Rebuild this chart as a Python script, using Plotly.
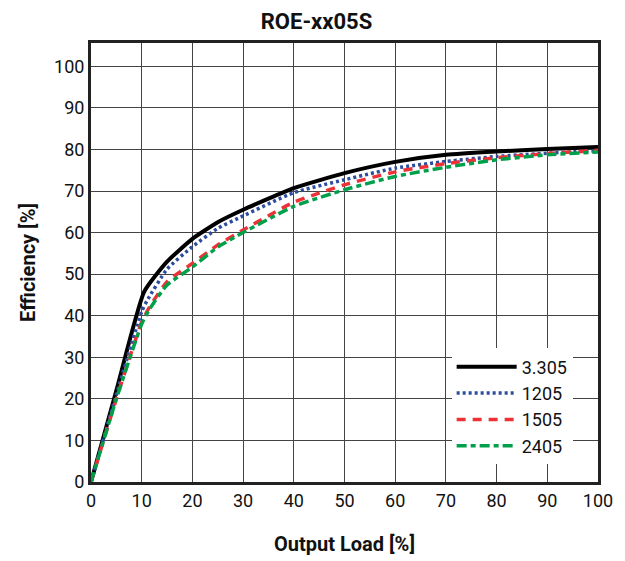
import plotly.graph_objects as go

load_black = [0, 5, 10.5, 15, 20, 25, 30, 40, 50, 60, 70, 80, 90, 100]
eff_3305 = [0, 22, 45.8, 53, 58.5, 62.5, 65.5, 70.7, 74.3, 77, 78.7, 79.5, 80.1, 80.6]

load_blue = [0, 5, 10, 11, 15, 20, 25, 30, 40, 50, 60, 70, 80, 90, 100]
eff_1205 = [0, 21, 41, 43.5, 51.2, 56.6, 61, 64, 69.6, 72.7, 75.5, 77.1, 78.3, 79.1, 79.7]

load_red = [0, 5, 10, 11.5, 15, 20, 25, 30, 40, 50, 60, 70, 80, 90, 100]
eff_1505 = [0, 20, 38.5, 42, 48.2, 52.6, 57, 60.6, 67.3, 71.5, 74.6, 76.6, 78, 79, 79.8]

load_green = [0, 5, 10, 11.5, 15, 20, 25, 30, 40, 50, 60, 70, 80, 90, 100]
eff_2405 = [0, 20, 38, 41.5, 47.4, 51.7, 56.5, 60, 66.3, 70.3, 73.5, 75.7, 77.5, 78.7, 79.4]

x_ticks = [0, 10, 20, 30, 40, 50, 60, 70, 80, 90, 100]
y_ticks = [0, 10, 20, 30, 40, 50, 60, 70, 80, 90, 100]

FONT = "Roboto, Liberation Sans, sans-serif"

fig = go.Figure()
fig.add_trace(go.Scatter(x=load_black, y=eff_3305, mode="lines", name="3.305",
                         line=dict(color="#000000", width=4, shape="spline", smoothing=0.5)))
fig.add_trace(go.Scatter(x=load_blue, y=eff_1205, mode="lines", name="1205",
                         line=dict(color="#2C4C9E", width=3.5, dash="3px,3px", shape="spline", smoothing=0.5)))
fig.add_trace(go.Scatter(x=load_red, y=eff_1505, mode="lines", name="1505",
                         line=dict(color="#EC3237", width=3.5, dash="9px,7px", shape="spline", smoothing=0.5)))
fig.add_trace(go.Scatter(x=load_green, y=eff_2405, mode="lines", name="2405",
                         line=dict(color="#00A04B", width=3.5, dash="10px,4px,5px,4px", shape="spline", smoothing=0.5)))

axis_common = dict(showline=True, linewidth=3, linecolor="#222222", mirror=True,
                   showgrid=True, gridcolor="#444444", gridwidth=1.3, zeroline=False,
                   ticks="", automargin=False,
                   tickfont=dict(family=FONT, size=18, color="#111111"))

fig.update_xaxes(range=[0, 100], tickvals=x_ticks, ticktext=[str(v) for v in x_ticks],
                 title=dict(text="<b>Output Load [%]</b>", font=dict(family=FONT, size=20, color="#111111"), standoff=28),
                 **axis_common)
fig.update_yaxes(range=[0, 105.6], tickvals=y_ticks, ticktext=[str(v) for v in y_ticks],
                 title=dict(text="<b>Efficiency [%]</b>", font=dict(family=FONT, size=20, color="#111111"), standoff=14),
                 **axis_common)

fig.update_layout(
    width=617, height=553,
    margin=dict(l=83, r=27, t=35, b=79, autoexpand=False),
    paper_bgcolor="white", plot_bgcolor="white",
    title=dict(text="<b>ROE-xx05S</b>", x=0.5, xref="container", xanchor="center",
               y=0.99, yanchor="top", font=dict(family=FONT, size=22, color="#111111")),
    legend=dict(x=0.95, xanchor="right", y=0.04, yanchor="bottom",
                bgcolor="white", borderwidth=0, tracegroupgap=0,
                font=dict(family=FONT, size=18, color="#111111"), itemwidth=60),
    showlegend=True,
)

fig.write_html("out.html")
